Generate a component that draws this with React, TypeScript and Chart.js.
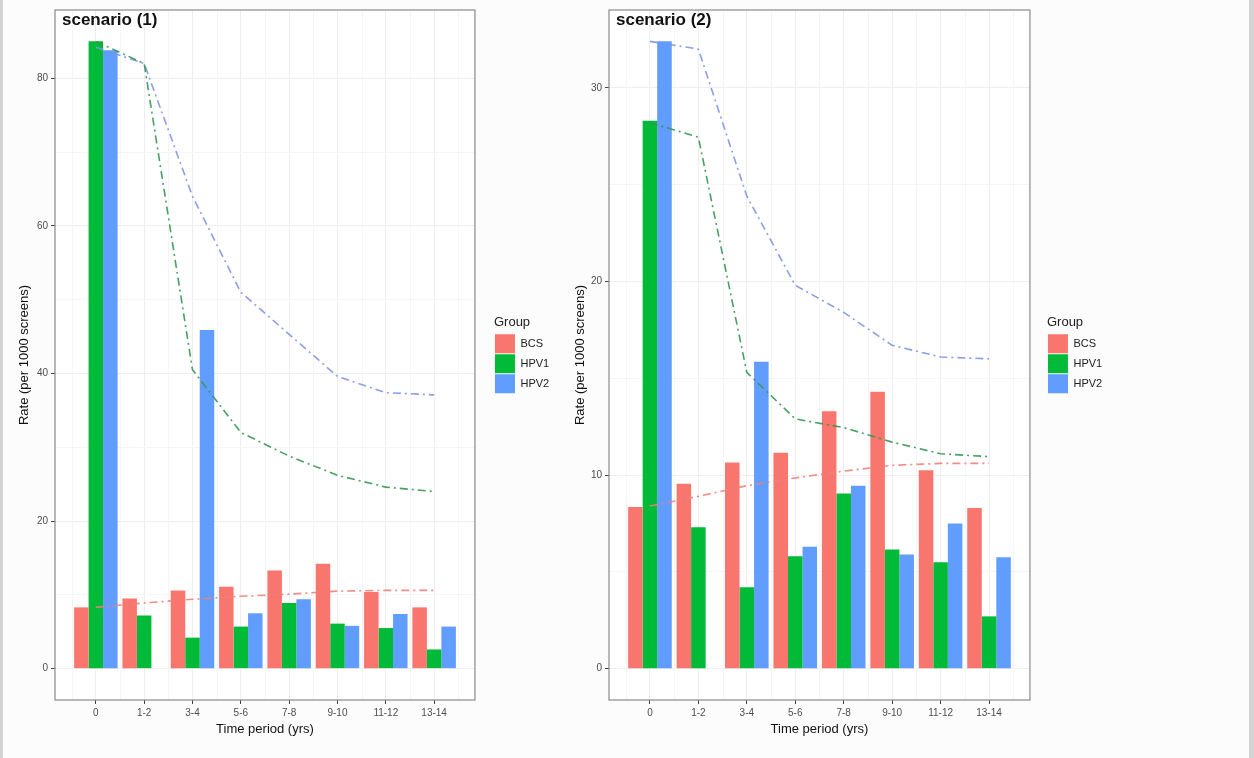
import React, { useEffect, useRef } from 'react';
import { Chart, registerables } from 'chart.js';
Chart.register(...registerables);

const FONT = "'Liberation Sans', Arial, Helvetica, sans-serif";
Chart.defaults.font.family = FONT;

const categories = ['0', '1-2', '3-4', '5-6', '7-8', '9-10', '11-12', '13-14'];
const groups = ['BCS', 'HPV1', 'HPV2'];
const barColors = ['#F8766D', '#00BA38', '#619CFF'];
const lineColors = ['rgba(240,128,122,0.9)', 'rgba(52,150,84,0.9)', 'rgba(128,148,226,0.9)'];

// Scenario (1) bars
const s1BCS = [8.3, 9.5, 10.6, 11.1, 13.3, 14.2, 10.4, 8.3];
const s1HPV1 = [85.0, 7.2, 4.2, 5.7, 8.9, 6.1, 5.5, 2.6];
const s1HPV2 = [83.8, null, 45.9, 7.5, 9.4, 5.8, 7.4, 5.7];
// Scenario (1) lines
const s1BCSLine = [8.3, 8.9, 9.4, 9.8, 10.1, 10.5, 10.6, 10.6];
const s1HPV1Line = [85.0, 82.0, 40.5, 32.0, 28.8, 26.2, 24.6, 24.0];
const s1HPV2Line = [84.2, 82.0, 64.0, 51.0, 45.3, 39.6, 37.4, 37.1];

// Scenario (2) bars
const s2BCS = [8.35, 9.55, 10.65, 11.15, 13.3, 14.3, 10.25, 8.3];
const s2HPV1 = [28.3, 7.3, 4.2, 5.8, 9.05, 6.15, 5.5, 2.7];
const s2HPV2 = [32.4, null, 15.85, 6.3, 9.45, 5.9, 7.5, 5.75];
// Scenario (2) lines
const s2BCSLine = [8.4, 8.9, 9.45, 9.85, 10.2, 10.5, 10.6, 10.6];
const s2HPV1Line = [28.2, 27.45, 15.3, 12.9, 12.45, 11.7, 11.1, 10.95];
const s2HPV2Line = [32.4, 32.0, 24.4, 19.8, 18.4, 16.7, 16.1, 16.0];

// Axis ticks / grid positions
const xTickValues = [0, 1, 2, 3, 4, 5, 6, 7];
const xMinorGrid = [-0.5, 0.5, 1.5, 2.5, 3.5, 4.5, 5.5, 6.5, 7.5];
const yMajor1 = [0, 20, 40, 60, 80];
const yGrid1 = [0, 10, 20, 30, 40, 50, 60, 70, 80];
const yMajor2 = [0, 10, 20, 30];
const yGrid2 = [0, 5, 10, 15, 20, 25, 30];

type PanelSpec = {
  title: string;
  bars: (number | null)[][];
  lines: number[][];
  yMin: number;
  yMax: number;
  yMajor: number[];
  yGrid: number[];
  padLeft: number;
  yAxisWidth: number;
  gapRight: number;
  padRight: number;
};

const panel1: PanelSpec = {
  title: 'scenario (1)',
  bars: [s1BCS, s1HPV1, s1HPV2],
  lines: [s1BCSLine, s1HPV1Line, s1HPV2Line],
  yMin: -4.25, yMax: 89.25,
  yMajor: yMajor1, yGrid: yGrid1,
  padLeft: 10, yAxisWidth: 45, gapRight: 19, padRight: 0.8,
};
const panel2: PanelSpec = {
  title: 'scenario (2)',
  bars: [s2BCS, s2HPV1, s2HPV2],
  lines: [s2BCSLine, s2HPV1Line, s2HPV2Line],
  yMin: -1.62, yMax: 34.02,
  yMajor: yMajor2, yGrid: yGrid2,
  padLeft: 10, yAxisWidth: 43, gapRight: 17, padRight: 136.8,
};

function buildConfig(p: PanelSpec): any {
  const barSets = p.bars.map((vals, gi) => ({
    type: 'bar',
    label: groups[gi],
    data: vals.map((v, i) => ({ x: i, y: v })),
    backgroundColor: barColors[gi],
    borderWidth: 0,
    categoryPercentage: 0.9,
    barPercentage: 1.0,
    order: 2,
  }));
  const lineSets = p.lines.map((vals, gi) => ({
    type: 'line',
    label: groups[gi] + ' line',
    data: vals.map((v, i) => ({ x: i, y: v })),
    borderColor: lineColors[gi],
    borderWidth: 1.6,
    borderDash: [8, 4, 2, 4],
    pointRadius: 0,
    fill: false,
    tension: 0,
    order: 1,
  }));
  const framePlugin = {
    id: 'frame' + p.title.replace(/\W/g, ''),
    beforeDraw(chart: any) {
      const { ctx, chartArea: a } = chart;
      ctx.save();
      ctx.fillStyle = '#ffffff';
      ctx.fillRect(a.left, a.top, a.right - a.left, a.bottom - a.top);
      ctx.restore();
    },
    beforeDatasetsDraw(chart: any) {
      const { ctx, chartArea: a } = chart;
      const xs = chart.scales.x;
      ctx.save();
      ctx.strokeStyle = '#f5f5f5';
      ctx.lineWidth = 1;
      xMinorGrid.forEach((v) => {
        const px = Math.round(xs.getPixelForValue(v)) + 0.5;
        ctx.beginPath();
        ctx.moveTo(px, a.top);
        ctx.lineTo(px, a.bottom);
        ctx.stroke();
      });
      ctx.restore();
    },
    afterDraw(chart: any) {
      const { ctx, chartArea: a } = chart;
      ctx.save();
      ctx.strokeStyle = '#8a8a8a';
      ctx.lineWidth = 1.2;
      ctx.strokeRect(a.left, a.top, a.right - a.left, a.bottom - a.top);
      ctx.fillStyle = '#111111';
      ctx.font = 'bold 17px ' + FONT;
      ctx.textBaseline = 'alphabetic';
      ctx.textAlign = 'left';
      ctx.fillText(p.title, a.left + 7, a.top + 14.5);
      ctx.restore();
    },
  };
  return {
    type: 'bar',
    data: { datasets: [...barSets, ...lineSets] },
    plugins: [framePlugin],
    options: {
      responsive: false,
      animation: false,
      events: [],
      layout: { padding: { left: p.padLeft, top: 10, right: p.padRight, bottom: 0 } },
      plugins: {
        tooltip: { enabled: false },
        legend: {
          position: 'right',
          align: 'center',
          fullSize: false,
          labels: {
            boxWidth: 20,
            boxHeight: 19,
            padding: 1,
            color: '#222222',
            font: { size: 11, family: FONT },
            filter: (item: any) => item.datasetIndex < 3,
          },
          title: {
            display: true,
            text: 'Group',
            position: 'start',
            color: '#222222',
            font: { size: 13, family: FONT },
            padding: { top: 0, bottom: 2 },
          },
        },
      },
      scales: {
        x: {
          type: 'linear',
          min: -0.845,
          max: 7.845,
          offset: false,
          afterBuildTicks: (s: any) => { s.ticks = xTickValues.map((v) => ({ value: v })); },
          afterFit: (s: any) => { s.height = 58; },
          grid: {
            offset: false,
            color: '#eeeeee',
            tickColor: '#444444',
            tickLength: 4,
            lineWidth: 1,
          },
          border: { display: false },
          ticks: {
            autoSkip: false,
            maxRotation: 0,
            minRotation: 0,
            padding: 3,
            color: '#4d4d4d',
            font: { size: 10, family: FONT },
            callback: (v: any) => (Number.isInteger(v) ? categories[v] : ''),
          },
          title: {
            display: true,
            text: 'Time period (yrs)',
            color: '#111111',
            font: { size: 13, family: FONT },
            padding: { top: 0, bottom: 21 },
          },
        },
        y: {
          type: 'linear',
          min: p.yMin,
          max: p.yMax,
          afterBuildTicks: (s: any) => { s.ticks = p.yGrid.map((v) => ({ value: v })); },
          afterFit: (s: any) => { s.width = p.yAxisWidth; },
          grid: {
            color: (c: any) => (p.yMajor.includes(c.tick?.value) ? '#eeeeee' : '#f5f5f5'),
            tickColor: (c: any) => (p.yMajor.includes(c.tick?.value) ? '#444444' : 'rgba(0,0,0,0)'),
            tickLength: 4,
            lineWidth: 1,
          },
          border: { display: false },
          ticks: {
            autoSkip: false,
            padding: 3,
            color: '#4d4d4d',
            font: { size: 10, family: FONT },
            callback: (v: any) => (p.yMajor.includes(v) ? String(v) : ''),
          },
          title: {
            display: true,
            text: 'Rate (per 1000 screens)',
            color: '#111111',
            font: { size: 13, family: FONT },
            padding: { top: 7, bottom: 0 },
          },
        },
        gap: {
          type: 'linear',
          position: 'right',
          display: true,
          grid: { display: false, drawTicks: false },
          ticks: { display: false },
          border: { display: false },
          afterFit: (s: any) => { s.width = p.gapRight; },
        },
      },
    },
  };
}

function Panel({ spec, left, width }: { spec: PanelSpec; left: number; width: number }) {
  const ref = useRef<HTMLCanvasElement | null>(null);
  useEffect(() => {
    if (!ref.current) return;
    const chart = new Chart(ref.current, buildConfig(spec));
    return () => chart.destroy();
  }, []);
  return (
    <canvas
      ref={ref}
      width={width}
      height={758}
      style={{ position: 'absolute', left, top: 0, width, height: 758 }}
    />
  );
}

export default function App() {
  return (
    <div style={{ position: 'absolute', left: 0, top: 0, width: 1254, height: 758, background: '#fcfcfc', overflow: 'hidden' }}>
      <Panel spec={panel1} left={0} width={560} />
      <Panel spec={panel2} left={556} width={693} />
      <div style={{ position: 'absolute', left: 0, top: 0, width: 3, height: 758, background: '#d4d4d4' }} />
      <div style={{ position: 'absolute', left: 1249, top: 0, width: 5, height: 758, background: '#d4d4d4' }} />
    </div>
  );
}
